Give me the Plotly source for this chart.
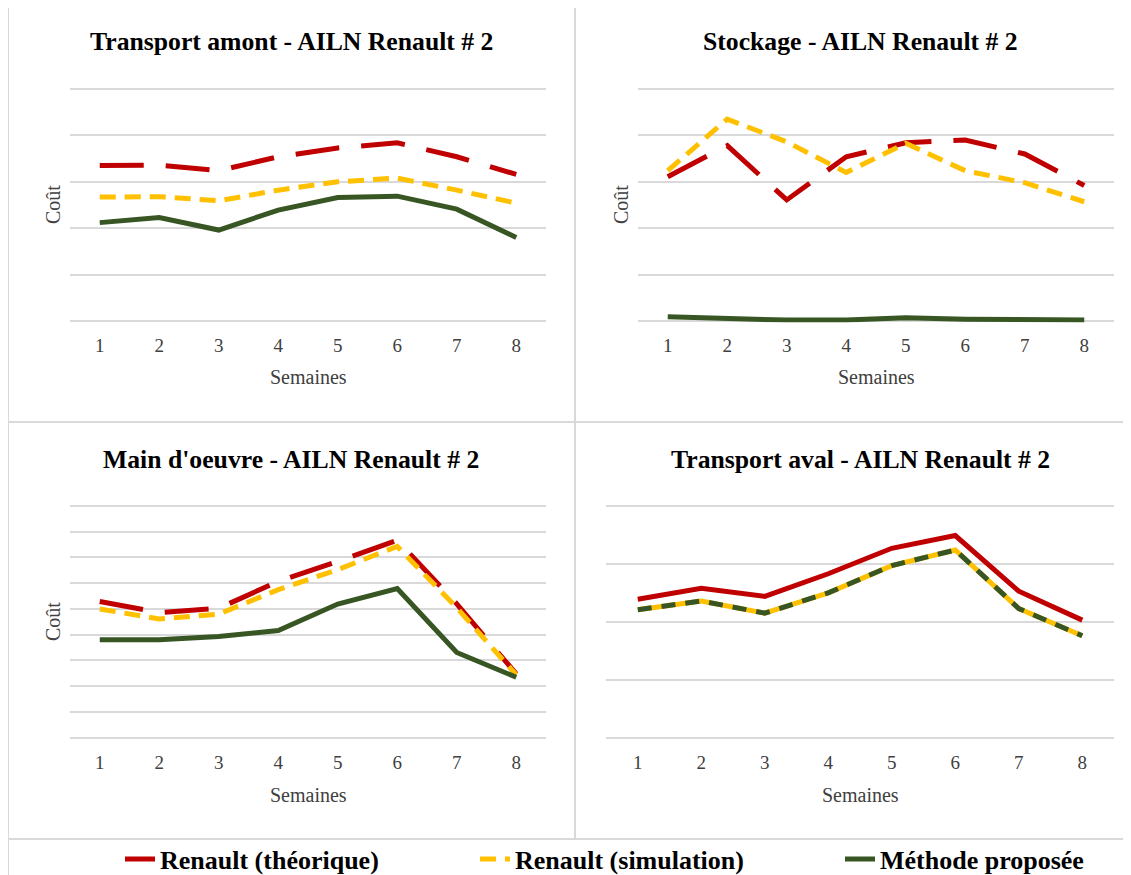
import plotly.graph_objects as go

# ---------------- data ----------------
weeks = [1, 2, 3, 4, 5, 6, 7, 8]
series_names = ["Renault (théorique)", "Renault (simulation)", "Méthode proposée"]
titles = [
    "Transport amont - AILN Renault # 2",
    "Stockage - AILN Renault # 2",
    "Main d'oeuvre - AILN Renault # 2",
    "Transport aval - AILN Renault # 2",
]

ta_theo = [3.35, 3.36, 3.24, 3.54, 3.73, 3.84, 3.54, 3.16]
ta_sim = [2.67, 2.68, 2.59, 2.82, 3.00, 3.08, 2.82, 2.54]
ta_prop = [2.12, 2.23, 1.96, 2.39, 2.66, 2.69, 2.41, 1.80]

st_theo = [3.11, 3.78, 2.61, 3.54, 3.84, 3.90, 3.60, 2.92]
st_sim = [3.24, 4.35, 3.86, 3.20, 3.83, 3.24, 2.98, 2.57]
st_prop = [0.09, 0.06, 0.02, 0.02, 0.07, 0.04, 0.03, 0.02]

mo_theo = [5.29, 4.86, 5.03, 6.07, 6.85, 7.67, 5.20, 2.48]
mo_sim = [5.00, 4.61, 4.80, 5.75, 6.53, 7.43, 5.05, 2.44]
mo_prop = [3.80, 3.80, 3.93, 4.16, 5.19, 5.79, 3.31, 2.35]

tv_theo = [2.39, 2.58, 2.44, 2.83, 3.27, 3.49, 2.53, 2.03]
tv_sim = [2.21, 2.36, 2.15, 2.50, 2.97, 3.24, 2.23, 1.76]
tv_prop = [2.21, 2.36, 2.15, 2.50, 2.97, 3.24, 2.23, 1.76]

# ---------------- styles ----------------
OFF = 8                      # page body margin in the browser
W, H = 1131 - OFF, 875 - OFF
RED, YEL, GRN = "#C00000", "#FFC000", "#375623"
GRID = "#D9D9D9"
FONT = "Liberation Serif"


def fx(x):
    """screen x pixel -> paper fraction"""
    return (x - OFF) / W


def fy(y):
    """screen y pixel -> paper fraction"""
    return 1 - (y - OFF) / H


panels = [
    dict(data=[ta_theo, ta_sim, ta_prop], xd=(70, 546), yd=(89, 321), yr=5, ytitle=True,
         styles=[("44px,22px", RED), ("16px,9px", YEL), ("solid", GRN)]),
    dict(data=[st_theo, st_sim, st_prop], xd=(638, 1114), yd=(89, 321), yr=5, ytitle=True,
         styles=[("44px,22px", RED), ("16px,9px", YEL), ("solid", GRN)]),
    dict(data=[mo_theo, mo_sim, mo_prop], xd=(70, 546), yd=(506, 737.7), yr=9, ytitle=True,
         styles=[("44px,22px", RED), ("16px,9px", YEL), ("solid", GRN)]),
    dict(data=[tv_theo, tv_sim, tv_prop], xd=(606, 1114), yd=(506, 737.7), yr=4, ytitle=False,
         styles=[("solid", RED), ("solid", YEL), ("14px,10px", GRN)]),
]

legend_names = ["legend", "legend2", "legend3"]
legend_text_x = [160, 515, 880]   # screen x where each legend text starts

fig = go.Figure()
annotations = []
layout_axes = {}

for i, p in enumerate(panels):
    n = "" if i == 0 else str(i + 1)
    for j, (vals, (dash, col)) in enumerate(zip(p["data"], p["styles"])):
        fig.add_trace(go.Scatter(
            x=weeks, y=vals, mode="lines",
            name=series_names[j], legendgroup=series_names[j],
            legend=legend_names[j],
            showlegend=(i == 0),
            line=dict(color=col, width=5, dash=dash),
            xaxis="x" + n, yaxis="y" + n,
        ))
    span = p["yd"][1] - p["yd"][0]
    pad_px = 1.5
    pad_u = pad_px * p["yr"] / span
    layout_axes["xaxis" + n] = dict(
        domain=[fx(p["xd"][0]), fx(p["xd"][1])], anchor="y" + n,
        range=[0.5, 8.5], tickvals=weeks, ticktext=[str(w) for w in weeks],
        showgrid=False, zeroline=False, showline=False,
        ticks="outside", ticklen=6, tickcolor="rgba(0,0,0,0)",
        tickfont=dict(family=FONT, size=19, color="#404040"),
    )
    layout_axes["yaxis" + n] = dict(
        domain=[fy(p["yd"][1] + pad_px), fy(p["yd"][0] - pad_px)], anchor="x" + n,
        range=[-pad_u, p["yr"] + pad_u], tickvals=list(range(0, p["yr"] + 1)),
        showticklabels=False,
        showgrid=True, gridcolor=GRID, gridwidth=2, zeroline=False, showline=False,
    )
    # title
    cx = 291 if p["xd"][0] < 575 else 860
    ty = 42 if p["yd"][0] < 400 else 460
    annotations.append(dict(text=titles[i], x=fx(cx), y=fy(ty), xref="paper", yref="paper",
                            showarrow=False, xanchor="center", yanchor="middle",
                            font=dict(family=FONT, size=25.7, color="#000000", weight="bold")))
    # x title
    sx = (p["xd"][0] + p["xd"][1]) / 2
    sy = 377 if p["yd"][0] < 400 else 795
    annotations.append(dict(text="Semaines", x=fx(sx), y=fy(sy), xref="paper", yref="paper",
                            showarrow=False, xanchor="center", yanchor="middle",
                            font=dict(family=FONT, size=20, color="#404040")))
    if p["ytitle"]:
        cxx = 53 if p["xd"][0] < 575 else 621
        cyy = 205 if p["yd"][0] < 400 else 622
        annotations.append(dict(text="Coût", x=fx(cxx), y=fy(cyy), xref="paper", yref="paper",
                                showarrow=False, textangle=-90, xanchor="center", yanchor="middle",
                                font=dict(family=FONT, size=20, color="#404040")))

shapes = [
    dict(type="rect", xref="paper", yref="paper", x0=fx(8), x1=fx(1145), y0=fy(7), y1=fy(890),
         line=dict(color=GRID, width=2), layer="below"),
    dict(type="line", xref="paper", yref="paper", x0=fx(575), x1=fx(575), y0=fy(7), y1=fy(839),
         line=dict(color=GRID, width=2), layer="below"),
    dict(type="line", xref="paper", yref="paper", x0=fx(8), x1=fx(1145), y0=fy(422), y1=fy(422),
         line=dict(color=GRID, width=2), layer="below"),
    dict(type="line", xref="paper", yref="paper", x0=fx(8), x1=fx(1145), y0=fy(839), y1=fy(839),
         line=dict(color=GRID, width=2), layer="below"),
]

legend_layout = {}
for k, ln in enumerate(legend_names):
    legend_layout[ln] = dict(
        orientation="h", x=fx(legend_text_x[k] - 40), y=fy(859), xanchor="left", yanchor="middle",
        font=dict(family=FONT, size=26, color="#000000", weight="bold"),
        bgcolor="rgba(0,0,0,0)",
    )

fig.update_layout(
    width=W, height=H,
    margin=dict(l=0, r=0, t=0, b=0, autoexpand=False),
    paper_bgcolor="white", plot_bgcolor="white",
    showlegend=True,
    annotations=annotations,
    shapes=shapes,
    **legend_layout,
    **layout_axes,
)

fig.write_html("out.html")
